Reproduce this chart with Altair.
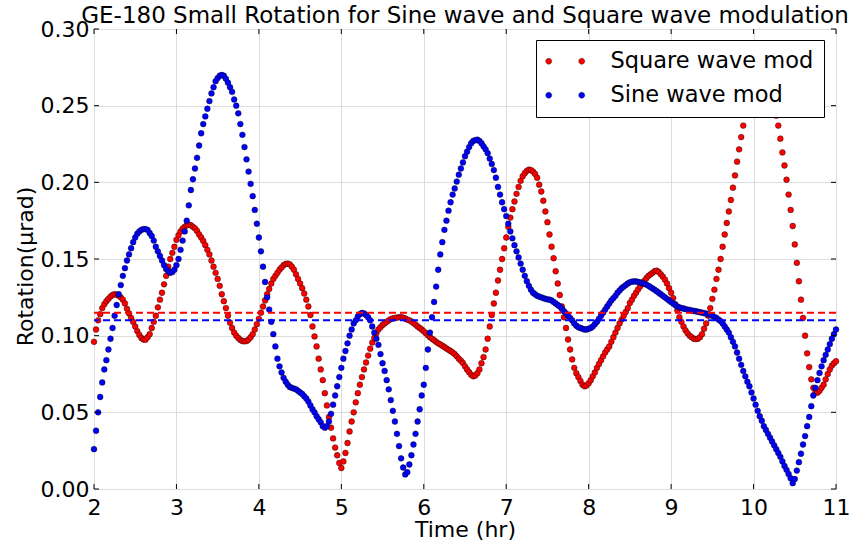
import altair as alt
import pandas as pd

# ---- data ----
T_START = 2.0
T_STEP = 0.025  # hours between samples

square_wave = [
    0.096, 0.104, 0.110, 0.114, 0.118, 0.1205, 0.1225, 0.124, 0.1255, 0.1265,
    0.127, 0.1268, 0.126, 0.125, 0.1235, 0.121, 0.1175, 0.1145, 0.1115, 0.109,
    0.106, 0.103, 0.1005, 0.0985, 0.0975, 0.0974, 0.099, 0.101, 0.105, 0.109,
    0.113, 0.1185, 0.1235, 0.128, 0.1335, 0.139, 0.145, 0.150, 0.154, 0.158,
    0.1625, 0.1655, 0.168, 0.1698, 0.171, 0.172, 0.1724, 0.172, 0.171, 0.170,
    0.1683, 0.166, 0.164, 0.1618, 0.159, 0.156, 0.153, 0.149, 0.145, 0.141,
    0.137, 0.1325, 0.127, 0.1225, 0.118, 0.113, 0.1085, 0.105, 0.102, 0.100,
    0.0985, 0.0972, 0.0965, 0.0963, 0.0965, 0.0975, 0.099, 0.101, 0.104, 0.1075,
    0.111, 0.115, 0.119, 0.123, 0.127, 0.1305, 0.134, 0.137, 0.139, 0.141,
    0.143, 0.1445, 0.146, 0.1468, 0.147, 0.1465, 0.145, 0.143, 0.140, 0.137,
    0.134, 0.131, 0.1275, 0.1235, 0.119, 0.1135, 0.106, 0.0995, 0.093, 0.085,
    0.078, 0.071, 0.0625, 0.0545, 0.047, 0.040, 0.033, 0.027, 0.022, 0.017,
    0.0137, 0.018, 0.0235, 0.030, 0.0375, 0.044, 0.050, 0.0565, 0.0625, 0.068,
    0.073, 0.078, 0.0825, 0.087, 0.0915, 0.0955, 0.0985, 0.1015, 0.104, 0.1055,
    0.107, 0.108, 0.109, 0.110, 0.1108, 0.1112, 0.1115, 0.1118, 0.112, 0.112,
    0.1118, 0.1112, 0.1105, 0.110, 0.1093, 0.1083, 0.1072, 0.106, 0.105, 0.104,
    0.1028, 0.1016, 0.1003, 0.099, 0.098, 0.097, 0.096, 0.095, 0.0943, 0.0935,
    0.0926, 0.0917, 0.0908, 0.090, 0.089, 0.088, 0.0865, 0.085, 0.0837, 0.0822,
    0.080, 0.078, 0.0762, 0.0745, 0.0735, 0.074, 0.0755, 0.078, 0.082, 0.086,
    0.091, 0.098, 0.106, 0.1135, 0.121, 0.128, 0.136, 0.143, 0.150, 0.157,
    0.164, 0.171, 0.177, 0.1825, 0.1875, 0.1925, 0.197, 0.201, 0.204, 0.206,
    0.2075, 0.2083, 0.208, 0.207, 0.2055, 0.203, 0.1985, 0.194, 0.188, 0.181,
    0.174, 0.166, 0.158, 0.1505, 0.142, 0.134, 0.1265, 0.119, 0.112, 0.105,
    0.0975, 0.091, 0.0845, 0.079, 0.0755, 0.073, 0.0705, 0.068, 0.067, 0.0675,
    0.069, 0.071, 0.0735, 0.076, 0.079, 0.0815, 0.084, 0.0865, 0.089, 0.091,
    0.093, 0.096, 0.099, 0.102, 0.105, 0.108, 0.1105, 0.113, 0.1155, 0.118,
    0.1213, 0.1235, 0.126, 0.128, 0.1302, 0.1322, 0.134, 0.1357, 0.1375, 0.139,
    0.140, 0.141, 0.142, 0.1424, 0.1415, 0.140, 0.1385, 0.1365, 0.134, 0.131,
    0.128, 0.1245, 0.1205, 0.1165, 0.112, 0.109, 0.106, 0.1035, 0.1015, 0.100,
    0.099, 0.098, 0.0978, 0.098, 0.099, 0.101, 0.1045, 0.108, 0.113, 0.118,
    0.124, 0.130, 0.137, 0.143, 0.150, 0.158, 0.166, 0.1735, 0.181, 0.1885,
    0.1965, 0.2045, 0.2135, 0.2215, 0.2295, 0.237, 0.2445, 0.251, 0.257, 0.262,
    0.266, 0.269, 0.271, 0.2715, 0.271, 0.2695, 0.2665, 0.263, 0.2585, 0.2535,
    0.248, 0.2435, 0.237, 0.2285, 0.2195, 0.211, 0.2017, 0.192, 0.182, 0.1715,
    0.1595, 0.1475, 0.1355, 0.1235, 0.1115, 0.100, 0.0885, 0.0795, 0.0715, 0.066,
    0.063, 0.0628, 0.064, 0.066, 0.068, 0.0715, 0.075, 0.078, 0.0805, 0.082,
    0.0833,
]

sine_wave = [
    0.026, 0.038, 0.050, 0.060, 0.0695, 0.078, 0.084, 0.091, 0.098, 0.105,
    0.113, 0.120, 0.127, 0.133, 0.139, 0.144, 0.149, 0.153, 0.157, 0.161,
    0.164, 0.1665, 0.168, 0.169, 0.1695, 0.1695, 0.169, 0.167, 0.165, 0.162,
    0.158, 0.155, 0.152, 0.149, 0.146, 0.1435, 0.142, 0.141, 0.1415, 0.143,
    0.146, 0.150, 0.156, 0.162, 0.168, 0.175, 0.185, 0.195, 0.202, 0.209,
    0.216, 0.224, 0.232, 0.238, 0.243, 0.248, 0.253, 0.258, 0.262, 0.266,
    0.268, 0.2695, 0.270, 0.2695, 0.2675, 0.265, 0.262, 0.259, 0.254, 0.250,
    0.245, 0.238, 0.231, 0.223, 0.215, 0.207, 0.199, 0.191, 0.182, 0.173,
    0.164, 0.155, 0.145, 0.135, 0.125, 0.117, 0.109, 0.101, 0.093, 0.085,
    0.080, 0.076, 0.0725, 0.070, 0.068, 0.0665, 0.066, 0.0655, 0.065, 0.064,
    0.063, 0.062, 0.0605, 0.059, 0.057, 0.0545, 0.052, 0.050, 0.0475, 0.0455,
    0.0435, 0.041, 0.040, 0.041, 0.044, 0.049, 0.055, 0.061, 0.067, 0.073,
    0.079, 0.085, 0.090, 0.095, 0.100, 0.104, 0.108, 0.110, 0.1125, 0.114,
    0.1148, 0.1145, 0.1135, 0.112, 0.110, 0.106, 0.102, 0.098, 0.094, 0.088,
    0.082, 0.077, 0.071, 0.065, 0.058, 0.051, 0.044, 0.036, 0.028, 0.020,
    0.014, 0.0095, 0.011, 0.016, 0.022, 0.029, 0.036, 0.044, 0.052, 0.061,
    0.068, 0.079, 0.091, 0.102, 0.112, 0.122, 0.132, 0.143, 0.153, 0.161,
    0.169, 0.175, 0.1815, 0.187, 0.192, 0.196, 0.2005, 0.205, 0.209, 0.213,
    0.217, 0.220, 0.223, 0.2255, 0.227, 0.2275, 0.2278, 0.227, 0.2255, 0.2235,
    0.2215, 0.219, 0.2155, 0.212, 0.208, 0.203, 0.197, 0.192, 0.187, 0.1825,
    0.178, 0.173, 0.168, 0.1635, 0.159, 0.155, 0.151, 0.147, 0.143, 0.139,
    0.1355, 0.1325, 0.130, 0.128, 0.127, 0.126, 0.1255, 0.125, 0.1245, 0.124,
    0.1237, 0.1235, 0.123, 0.122, 0.121, 0.120, 0.119, 0.1175, 0.116, 0.1145,
    0.113, 0.1115, 0.110, 0.108, 0.1065, 0.1055, 0.105, 0.1045, 0.104, 0.104,
    0.1045, 0.105, 0.106, 0.1075, 0.109, 0.111, 0.113, 0.115, 0.117, 0.119,
    0.121, 0.123, 0.1245, 0.126, 0.128, 0.1295, 0.131, 0.132, 0.133, 0.134,
    0.1348, 0.1352, 0.1354, 0.1354, 0.135, 0.1347, 0.1343, 0.1338, 0.1333, 0.1325,
    0.1317, 0.1308, 0.130, 0.129, 0.128, 0.127, 0.126, 0.125, 0.124, 0.123,
    0.122, 0.121, 0.120, 0.119, 0.1185, 0.118, 0.1177, 0.1173, 0.117, 0.1167,
    0.1164, 0.1161, 0.1159, 0.1156, 0.1153, 0.115, 0.1147, 0.1144, 0.114, 0.1136,
    0.113, 0.1122, 0.1115, 0.1105, 0.1095, 0.108, 0.106, 0.104, 0.102, 0.099,
    0.096, 0.093, 0.089, 0.085, 0.081, 0.077, 0.0735, 0.070, 0.067, 0.063,
    0.059, 0.055, 0.051, 0.0475, 0.0445, 0.041, 0.0385, 0.036, 0.0335, 0.031,
    0.0285, 0.026, 0.0235, 0.021, 0.018, 0.015, 0.0125, 0.0098, 0.007, 0.0038,
    0.0065, 0.012, 0.0175, 0.023, 0.029, 0.0345, 0.041, 0.047, 0.054, 0.061,
    0.066, 0.071, 0.0757, 0.080, 0.084, 0.0875, 0.091, 0.0945, 0.098, 0.101,
    0.104,
]

series_names = ["Square wave mod", "Sine wave mod"]
series_colors = ["#ff0000", "#0000ff"]
mean_values = [0.115, 0.110]          # dashed reference levels
x_ticks = [2, 3, 4, 5, 6, 7, 8, 9, 10, 11]
y_ticks = [0.0, 0.05, 0.10, 0.15, 0.20, 0.25, 0.30]

assert len(square_wave) == 361 and len(sine_wave) == 361

rows = []
for name, vals in zip(series_names, [square_wave, sine_wave]):
    for i, v in enumerate(vals):
        rows.append({"t": round(T_START + T_STEP * i, 4), "v": v, "series": name})
df = pd.DataFrame(rows)

FONT = "DejaVu Sans"
W, H = 742, 460

x_axis = alt.Axis(values=x_ticks, format="d", grid=True, ticks=False, domain=False,
                  labelFontSize=22, labelFont=FONT, labelColor="black",
                  labelBaseline="alphabetic", labelPadding=25,
                  labelFlush=False, labelOverlap=False,
                  title="Time (hr)", titleFontSize=22, titleFont=FONT,
                  titleFontWeight="normal", titleColor="black",
                  titleBaseline="alphabetic", titleY=47)
y_axis = alt.Axis(values=y_ticks, format=".2f", grid=True, ticks=False, domain=False,
                  labelFontSize=22, labelFont=FONT, labelColor="black",
                  labelPadding=5, labelFlush=False, labelOverlap=False,
                  title="Rotation(μrad)", titleFontSize=22, titleFont=FONT,
                  titleFontWeight="normal", titleColor="black",
                  titleBaseline="alphabetic", titleX=-62, titleY=237, titleAngle=270)

xs = alt.Scale(domain=[2, 11], nice=False, zero=False)
ys = alt.Scale(domain=[0, 0.3], nice=False, zero=False)

# two small dots side by side, like the reference legend
two_dot = ("M -8.17,0 A 1,1 0 1,1 -6.17,0 A 1,1 0 1,1 -8.17,0 Z "
           "M 2.83,0 A 1,1 0 1,1 4.83,0 A 1,1 0 1,1 2.83,0 Z")

points = alt.Chart(df).mark_circle(size=34, opacity=1, stroke="black",
                                   strokeWidth=0.5, strokeOpacity=0.8).encode(
    x=alt.X("t:Q", scale=xs, axis=x_axis),
    y=alt.Y("v:Q", scale=ys, axis=y_axis),
    color=alt.Color("series:N",
                    scale=alt.Scale(domain=series_names, range=series_colors),
                    sort=series_names, title=None,
                    legend=alt.Legend(orient="none", legendX=442, legendY=11,
                                      fillColor="white", strokeColor="black",
                                      padding=10, cornerRadius=0,
                                      symbolType=two_dot, symbolSize=36,
                                      symbolOffset=13, labelOffset=29,
                                      symbolStrokeColor="black",
                                      symbolStrokeWidth=0.4,
                                      labelFontSize=22.5, labelFont=FONT,
                                      labelColor="black", labelLimit=320,
                                      rowPadding=11)),
    order=alt.Order("ord:Q"),
).transform_calculate(ord="datum.series == 'Square wave mod' ? 0 : 1")

mean_df = pd.DataFrame({"v": mean_values, "series": series_names})
dash_layers = []
for name, col in zip(series_names, series_colors):
    dash_layers.append(
        alt.Chart(mean_df).transform_filter(alt.datum.series == name)
        .mark_rule(strokeDash=[7, 4], strokeWidth=2)
        .encode(y=alt.Y("v:Q", scale=ys, axis=y_axis), color=alt.value(col))
    )

xt = pd.DataFrame({"t": x_ticks})
yt = pd.DataFrame({"v": y_ticks})
tick_bottom = alt.Chart(xt).mark_rule(color="black").encode(
    x=alt.X("t:Q", scale=xs, axis=x_axis), y=alt.value(H), y2=alt.value(H - 5))
tick_top = alt.Chart(xt).mark_rule(color="black").encode(
    x=alt.X("t:Q", scale=xs, axis=x_axis), y=alt.value(0), y2=alt.value(5))
tick_left = alt.Chart(yt).mark_rule(color="black").encode(
    y=alt.Y("v:Q", scale=ys, axis=y_axis), x=alt.value(0), x2=alt.value(5))
tick_right = alt.Chart(yt).mark_rule(color="black").encode(
    y=alt.Y("v:Q", scale=ys, axis=y_axis), x=alt.value(W), x2=alt.value(W - 5))

chart = alt.layer(points, *dash_layers, tick_bottom, tick_top, tick_left, tick_right).properties(
    width=W, height=H,
    title=alt.TitleParams("GE-180 Small Rotation for Sine wave and Square wave modulation",
                          fontSize=23, font=FONT, fontWeight="normal", color="black",
                          anchor="middle", frame="group", offset=0, dy=10),
    autosize=alt.AutoSizeParams(type="none"),
    padding={"left": 94, "top": 29, "right": 16, "bottom": 55},
).configure_view(stroke="black", strokeWidth=1).configure_axis(
    gridColor="#a0a0a0", gridDash=[2, 2], gridWidth=1
).configure(background="white")

chart.save("out.html", embed_options={"renderer": "svg", "actions": False})
